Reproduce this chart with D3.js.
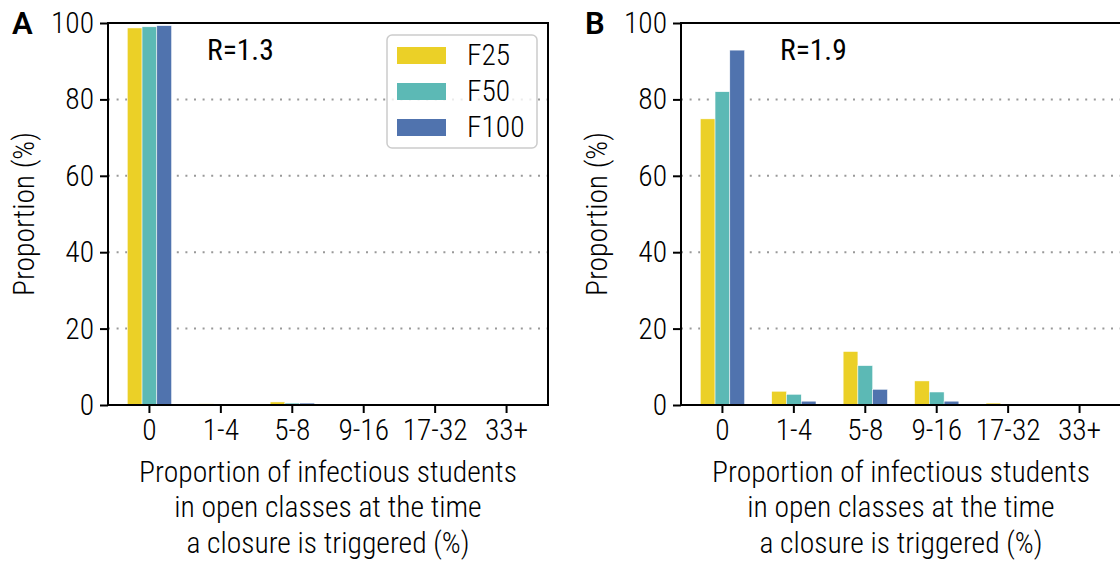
<!DOCTYPE html>
<html>
<head>
<meta charset="utf-8">
<script src="https://cdn.jsdelivr.net/npm/d3@7"></script>
<style>
  body { margin: 0; background: white; }
  text { font-family: "Roboto Condensed", "Liberation Sans Narrow", "DejaVu Sans Condensed", Roboto, sans-serif; font-stretch: condensed; font-weight: 300; }
</style>
</head>
<body>
<div class="chart"></div>
<script>
const categories = ["0", "1-4", "5-8", "9-16", "17-32", "33+"];
const seriesNames = ["F25", "F50", "F100"];
const seriesColors = ["#ebd027", "#5cb9b5", "#5073ae"];
const yTicks = [0, 20, 40, 60, 80, 100];
const xLabelLines = ["Proportion of infectious students", "in open classes at the time", "a closure is triggered (%)"];

// panel A, R=1.3
const panelA_F25 = [98.7, 0.3, 0.8, 0, 0, 0];
const panelA_F50 = [99.0, 0.2, 0.5, 0, 0, 0];
const panelA_F100 = [99.3, 0.1, 0.5, 0, 0, 0];

// panel B, R=1.9
const panelB_F25 = [74.9, 3.6, 14.0, 6.3, 0.5, 0];
const panelB_F50 = [82.0, 2.8, 10.3, 3.4, 0.2, 0];
const panelB_F100 = [92.9, 1.0, 4.1, 1.0, 0, 0];

const dimensions = {
  width: 1120,
  height: 565,
  plotWidth: 440,
  margin: { top: 23, bottom: 160 },
}
dimensions.boundedHeight = dimensions.height - dimensions.margin.top - dimensions.margin.bottom

const wrapper = d3.select(".chart")
  .append("svg")
  .attr("width", dimensions.width)
  .attr("height", dimensions.height)

function drawPanel(left, letter, rLabel, values, showLegend) {
  const bounds = wrapper.append("g")
    .attr("transform", `translate(${left}, ${dimensions.margin.top})`)

  const xScale = d3.scaleBand()
    .domain(categories)
    .range([0, dimensions.plotWidth])
    .paddingInner(0.38)
    .paddingOuter(0.27)

  const innerScale = d3.scaleBand()
    .domain(seriesNames)
    .range([0, xScale.bandwidth()])

  const yScale = d3.scaleLinear()
    .domain([0, 100])
    .range([dimensions.boundedHeight, 0])

  // dotted grid
  bounds.append("g")
    .selectAll("line")
    .data(yTicks.filter(d => d > 0 && d < 100))
    .enter().append("line")
    .attr("x1", 0)
    .attr("x2", dimensions.plotWidth)
    .attr("y1", d => yScale(d))
    .attr("y2", d => yScale(d))
    .attr("stroke", "#999")
    .attr("stroke-width", 2)
    .attr("stroke-dasharray", "2 6.6")

  const rows = seriesNames.map((name, i) => ({ name, color: seriesColors[i], vals: values[i] }))

  rows.forEach(s => {
    bounds.append("g")
      .selectAll("rect")
      .data(categories.map((c, j) => ({ c, v: s.vals[j] })))
      .enter().append("rect")
      .attr("x", d => xScale(d.c) + innerScale(s.name))
      .attr("y", d => yScale(d.v))
      .attr("width", innerScale.bandwidth())
      .attr("height", d => dimensions.boundedHeight - yScale(d.v))
      .attr("fill", s.color)
      .attr("stroke", "white")
      .attr("stroke-width", 0.5)
  })

  // frame
  bounds.append("rect")
    .attr("x", 0)
    .attr("y", 0)
    .attr("width", dimensions.plotWidth)
    .attr("height", dimensions.boundedHeight)
    .attr("fill", "none")
    .attr("stroke", "black")
    .attr("stroke-width", 2)

  const yAxis = bounds.append("g")
    .call(d3.axisLeft(yScale).tickValues(yTicks).tickSize(8).tickPadding(6))
  yAxis.select(".domain").remove()
  yAxis.selectAll("line").attr("stroke-width", 2)
  yAxis.selectAll("text").style("font-size", "29.5px").attr("fill", "black")

  const xAxis = bounds.append("g")
    .attr("transform", `translate(0, ${dimensions.boundedHeight})`)
    .call(d3.axisBottom(xScale).tickSize(8).tickPadding(6))
  xAxis.select(".domain").remove()
  xAxis.selectAll("line").attr("stroke-width", 2)
  xAxis.selectAll("text").style("font-size", "29.5px").attr("fill", "black")

  bounds.append("text")
    .attr("x", -dimensions.boundedHeight / 2)
    .attr("y", -74)
    .attr("transform", "rotate(-90)")
    .attr("text-anchor", "middle")
    .style("font-size", "29.5px")
    .text("Proportion (%)")

  bounds.append("g").selectAll("text")
    .data(xLabelLines)
    .enter().append("text")
    .attr("x", dimensions.plotWidth / 2)
    .attr("y", (d, i) => dimensions.boundedHeight + 77 + i * 35.3)
    .attr("text-anchor", "middle")
    .style("font-size", "29.6px")
    .text(d => d)

  bounds.append("text")
    .attr("x", -96)
    .attr("y", 11)
    .style("font-family", "Roboto, sans-serif")
    .style("font-stretch", "normal")
    .style("font-size", "31px")
    .style("font-weight", "600")
    .text(letter)

  bounds.append("text")
    .attr("x", 99)
    .attr("y", 37)
    .style("font-size", "29.5px")
    .style("font-weight", "400")
    .text(rLabel)

  if (showLegend) {
    const legend = bounds.append("g")
      .attr("transform", "translate(279, 12)")
    legend.append("rect")
      .attr("width", 150)
      .attr("height", 113)
      .attr("rx", 5)
      .attr("fill", "white")
      .attr("fill-opacity", 0.8)
      .attr("stroke", "#ccc")
      .attr("stroke-width", 1.5)
    const items = legend.selectAll("g")
      .data(rows)
      .enter().append("g")
      .attr("transform", (d, i) => `translate(10, ${20 + i * 36})`)
    items.append("rect")
      .attr("y", -8)
      .attr("width", 49)
      .attr("height", 17)
      .attr("fill", d => d.color)
    items.append("text")
      .attr("x", 70)
      .attr("y", 10)
      .style("font-size", "29.5px")
      .text(d => d.name)
  }
}

drawPanel(108, "A", "R=1.3", [panelA_F25, panelA_F50, panelA_F100], true)
drawPanel(681, "B", "R=1.9", [panelB_F25, panelB_F50, panelB_F100], false)
</script>
</body>
</html>
